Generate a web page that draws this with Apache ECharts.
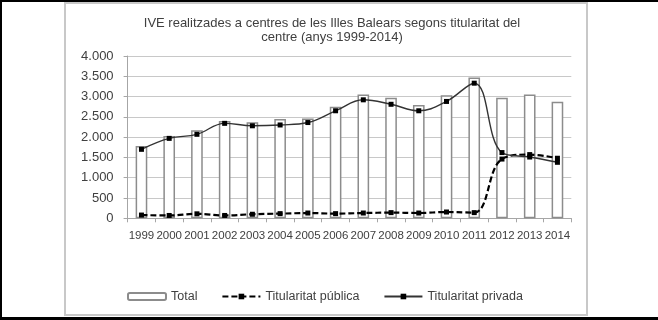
<!DOCTYPE html>
<html><head><meta charset="utf-8">
<script src="https://cdn.jsdelivr.net/npm/echarts@6/dist/echarts.min.js"></script>
<style>html,body{margin:0;padding:0;background:#fff}#c{width:658px;height:320px}</style>
</head><body><div id="c"></div>
<script>
const years = ['1999','2000','2001','2002','2003','2004','2005','2006','2007','2008','2009','2010','2011','2012','2013','2014'];
const total = [1780, 2030, 2170, 2400, 2370, 2450, 2460, 2750, 3050, 2970, 2790, 3030, 3470, 2970, 3050, 2870];
const publica = [80, 70, 110, 70, 100, 115, 130, 115, 130, 140, 130, 155, 140, 1460, 1570, 1480];
const privada = [1700, 1970, 2070, 2340, 2280, 2300, 2360, 2650, 2920, 2810, 2650, 2880, 3330, 1620, 1510, 1380];
const yTicks = ['0','500','1.000','1.500','2.000','2.500','3.000','3.500','4.000'];
const titleText = 'IVE realitzades a centres de les Illes Balears segons titularitat del\ncentre (anys 1999-2014)';

const FONT = "'Liberation Sans', Arial, sans-serif";
const TXT = '#404040';
const chart = echarts.init(document.getElementById('c'), null, {renderer:'canvas'});
chart.setOption({
  animation:false,
  textStyle:{fontFamily:FONT},
  graphic:[
    {type:'rect', shape:{x:65,y:3,width:522,height:312}, style:{fill:'#fff', stroke:'#c8c8c8', lineWidth:2}, z:-10},
    {type:'rect', shape:{x:0,y:0,width:658,height:2}, style:{fill:'#000'}, z:-5},
    {type:'rect', shape:{x:0,y:0,width:2,height:320}, style:{fill:'#000'}, z:-5},
    {type:'rect', shape:{x:0,y:317,width:658,height:3}, style:{fill:'#000'}, z:-5}
  ],
  title:{
    text:titleText, left:327, top:11, textAlign:'center',
    textStyle:{fontFamily:FONT, fontSize:13, fontWeight:'normal', color:TXT, lineHeight:14}
  },
  legend:{
    left:122, top:285, itemWidth:38, itemHeight:7, itemGap:24,
    textStyle:{fontFamily:FONT, fontSize:12.5, color:TXT},
    data:['Total','Titularitat pública','Titularitat privada']
  },
  grid:{left:127.6, top:56, width:443.7, height:162.3, containLabel:false},
  xAxis:{
    type:'category', data:years, boundaryGap:true,
    axisLine:{lineStyle:{color:'#a6a6a6', width:1}},
    axisTick:{show:true, interval:0, length:4, lineStyle:{color:'#a6a6a6'}},
    axisLabel:{color:TXT, fontSize:11.5, fontFamily:FONT, margin:12, interval:0}
  },
  yAxis:{
    type:'value', min:0, max:4000, interval:500,
    axisLine:{show:true, lineStyle:{color:'#a6a6a6', width:1}},
    axisTick:{show:true, length:4, lineStyle:{color:'#a6a6a6'}},
    splitLine:{lineStyle:{color:'#c8c8c8', width:1}},
    axisLabel:{color:TXT, fontSize:13, fontFamily:FONT, margin:14,
      formatter:(v)=>yTicks[Math.round(v/500)]}
  },
  series:[
    {name:'Total', type:'bar', data:total, barWidth:'42%',
      itemStyle:{color:'#ffffff', borderColor:'#8c8c8c', borderWidth:1.5}},
    {name:'Titularitat pública', type:'line', data:publica, smooth:0.4,
      symbol:'rect', symbolSize:5, showSymbol:true,
      lineStyle:{color:'#000', width:2.2, type:[6,3]},
      itemStyle:{color:'#000'}},
    {name:'Titularitat privada', type:'line', data:privada, smooth:0.4,
      symbol:'rect', symbolSize:5, showSymbol:true,
      lineStyle:{color:'#333', width:1.4, type:'solid'},
      itemStyle:{color:'#000'}}
  ]
});
</script></body></html>
